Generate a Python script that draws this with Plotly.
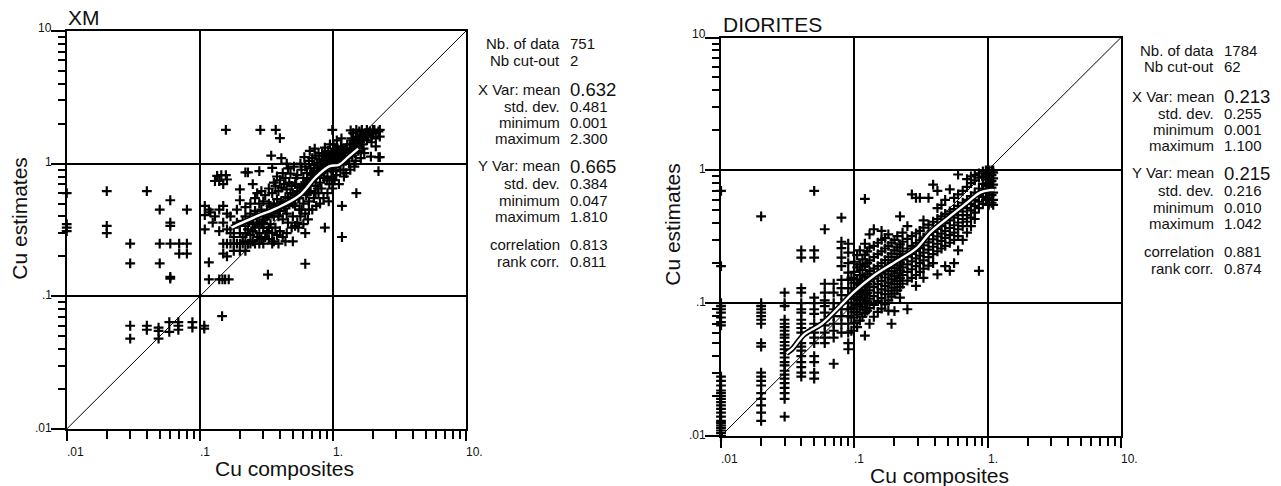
import plotly.graph_objects as go

W, H = 1281, 486

# ------------------------------------------------------------------ data
DECADES = [0.01, 0.1, 1, 10]
MINORS = [0.02, 0.03, 0.04, 0.05, 0.06, 0.07, 0.08, 0.09,
          0.2, 0.3, 0.4, 0.5, 0.6, 0.7, 0.8, 0.9,
          2, 3, 4, 5, 6, 7, 8, 9]
X_TICK_LABELS = [".01", ".1", "1.", "10."]
Y_TICK_LABELS = [".01", ".1", "1", "10"]

STAT_LABELS = ["Nb. of data", "Nb cut-out", "X Var: mean", "std. dev.", "minimum",
               "maximum", "Y Var: mean", "std. dev.", "minimum", "maximum",
               "correlation", "rank corr."]
XM_STATS = ["751", "2", "0.632", "0.481", "0.001", "2.300",
            "0.665", "0.384", "0.047", "1.810", "0.813", "0.811"]
DIO_STATS = ["1784", "62", "0.213", "0.255", "0.001", "1.100",
             "0.215", "0.216", "0.010", "1.042", "0.881", "0.874"]

# XM : points sitting on the left border (x clipped)
XM_EDGE = [(0.01, 0.60), (0.01, 0.35), (0.01, 0.33), (0.01, 0.31)]
# XM : sparse points at low composite grades
XM_LOW = [(0.02, 0.62), (0.02, 0.34), (0.02, 0.30), (0.03, 0.25), (0.03, 0.177),
          (0.04, 0.62), (0.05, 0.45), (0.05, 0.25), (0.05, 0.177), (0.06, 0.53),
          (0.06, 0.36), (0.06, 0.34), (0.06, 0.25), (0.06, 0.14), (0.06, 0.136),
          (0.07, 0.25), (0.07, 0.21), (0.08, 0.25), (0.08, 0.21), (0.08, 0.45),
          (0.03, 0.06), (0.03, 0.048), (0.04, 0.06), (0.04, 0.056), (0.049, 0.058),
          (0.049, 0.055), (0.049, 0.048), (0.059, 0.064), (0.059, 0.054), (0.069, 0.064),
          (0.069, 0.06), (0.069, 0.056), (0.088, 0.064), (0.088, 0.058), (0.108, 0.06),
          (0.108, 0.057), (0.147, 0.071),
          (0.109, 0.48), (0.109, 0.41), (0.109, 0.32), (0.117, 0.45), (0.117, 0.18),
          (0.117, 0.134), (0.13, 0.74), (0.135, 0.81), (0.14, 0.74), (0.125, 0.36),
          (0.14, 0.31), (0.14, 0.134), (0.148, 0.134), (0.155, 0.134), (0.15, 0.21),
          (0.165, 0.134), (0.12, 0.43), (0.13, 0.40), (0.145, 0.82), (0.157, 0.82),
          (0.15, 0.7), (0.16, 0.76), (0.157, 1.80), (0.285, 1.80), (0.372, 1.80),
          (0.40, 1.56), (0.344, 1.15), (0.99, 1.80), (0.325, 0.146), (0.62, 0.176),
          (1.17, 0.28), (1.17, 0.48), (0.87, 0.33), (1.5, 0.60), (0.2, 0.53),
          (0.2, 0.64)]
# XM : main cloud
XM_CLOUD = [
    (0.16, 0.25), (0.17, 0.25), (0.18, 0.25), (0.19, 0.25), (0.16, 0.20), (0.17, 0.30),
    (0.18, 0.28), (0.15, 0.36), (0.16, 0.42), (0.17, 0.40), (0.19, 0.45), (0.18, 0.33),
    (0.19, 0.36), (0.15, 0.25), (0.18, 0.22), (0.16, 0.32), (0.14, 0.45), (0.15, 0.48),
    (0.20, 0.25), (0.21, 0.25), (0.22, 0.26), (0.23, 0.25), (0.24, 0.25), (0.25, 0.26),
    (0.26, 0.25), (0.21, 0.28), (0.22, 0.30), (0.23, 0.32), (0.24, 0.29), (0.25, 0.31),
    (0.26, 0.33), (0.27, 0.28), (0.28, 0.30), (0.29, 0.27), (0.20, 0.34), (0.21, 0.37),
    (0.22, 0.40), (0.23, 0.36), (0.24, 0.42), (0.25, 0.38), (0.26, 0.44), (0.27, 0.40),
    (0.28, 0.36), (0.29, 0.45), (0.20, 0.22), (0.22, 0.22), (0.22, 0.47), (0.24, 0.50),
    (0.26, 0.55), (0.28, 0.50), (0.27, 0.60), (0.29, 0.62), (0.22, 0.86), (0.23, 0.86),
    (0.28, 0.88), (0.25, 0.70), (0.30, 0.25), (0.30, 0.33), (0.30, 0.40), (0.30, 0.52),
    (0.31, 0.28), (0.32, 0.31), (0.33, 0.27), (0.34, 0.35), (0.35, 0.30), (0.36, 0.26),
    (0.37, 0.33), (0.38, 0.29), (0.39, 0.25), (0.40, 0.31), (0.42, 0.28), (0.44, 0.26),
    (0.31, 0.38), (0.32, 0.44), (0.33, 0.41), (0.34, 0.48), (0.35, 0.42), (0.36, 0.50),
    (0.37, 0.46), (0.38, 0.54), (0.39, 0.40), (0.40, 0.44), (0.41, 0.52), (0.42, 0.38),
    (0.43, 0.48), (0.44, 0.56), (0.45, 0.42), (0.46, 0.36), (0.47, 0.50), (0.48, 0.60),
    (0.49, 0.33), (0.31, 0.58), (0.33, 0.65), (0.35, 0.60), (0.36, 0.72), (0.37, 0.68),
    (0.38, 0.80), (0.39, 0.62), (0.40, 0.75), (0.41, 0.66), (0.42, 0.85), (0.43, 0.70),
    (0.44, 0.78), (0.45, 0.64), (0.46, 0.92), (0.47, 0.72), (0.48, 0.84), (0.49, 0.68),
    (0.35, 0.93), (0.45, 1.00), (0.50, 0.26), (0.41, 1.10), (0.33, 0.50), (0.29, 0.35),
    (0.50, 0.40), (0.52, 0.48), (0.54, 0.36), (0.55, 0.55), (0.56, 0.45), (0.58, 0.62),
    (0.60, 0.50), (0.62, 0.42), (0.63, 0.58), (0.65, 0.70), (0.66, 0.52), (0.68, 0.62),
    (0.70, 0.75), (0.72, 0.55), (0.74, 0.68), (0.76, 0.82), (0.78, 0.60), (0.80, 0.72),
    (0.50, 0.60), (0.52, 0.70), (0.54, 0.82), (0.56, 0.66), (0.58, 0.90), (0.60, 0.78),
    (0.62, 0.95), (0.64, 0.85), (0.66, 1.05), (0.68, 0.92), (0.70, 1.10), (0.72, 0.98),
    (0.74, 1.15), (0.76, 1.02), (0.78, 1.20), (0.80, 0.95), (0.51, 0.95), (0.53, 0.78),
    (0.57, 1.00), (0.61, 1.12), (0.67, 1.25), (0.73, 1.30), (0.79, 1.08), (0.55, 0.33),
    (0.62, 0.30), (0.60, 0.35), (0.65, 0.38), (0.70, 0.45), (0.75, 0.48), (0.80, 0.50),
    (0.64, 0.60), (0.57, 0.40), (0.69, 0.85), (0.77, 0.65),
    (0.82, 0.85), (0.84, 1.00), (0.86, 0.78), (0.88, 1.10), (0.90, 0.92), (0.92, 1.25),
    (0.94, 0.70), (0.96, 1.05), (0.98, 0.88), (1.00, 1.15), (1.02, 0.95), (1.04, 1.30),
    (1.06, 0.82), (1.08, 1.08), (1.10, 1.20), (1.12, 0.98), (1.15, 1.35), (1.18, 1.10),
    (1.20, 0.90), (1.22, 1.25), (1.25, 1.05), (1.28, 1.40), (0.83, 1.20), (0.87, 1.32),
    (0.91, 0.60), (0.95, 1.40), (0.99, 0.65), (1.03, 0.75), (1.07, 1.50), (1.11, 0.70),
    (1.16, 1.55), (1.21, 0.80), (1.26, 0.85), (1.30, 1.20), (0.85, 0.55), (0.93, 0.52),
    (0.89, 1.00), (0.97, 0.98), (1.05, 1.00), (1.13, 1.12), (0.99, 1.05), (0.91, 0.80),
    (1.09, 1.25), (1.01, 1.40), (0.86, 1.15),
    (1.32, 1.00), (1.35, 1.30), (1.38, 1.55), (1.40, 1.15), (1.42, 1.70), (1.45, 1.40),
    (1.48, 1.05), (1.50, 1.60), (1.55, 1.25), (1.58, 1.75), (1.60, 1.45), (1.62, 1.10),
    (1.65, 1.80), (1.68, 1.55), (1.70, 1.30), (1.75, 1.70), (1.80, 1.80), (1.85, 1.60),
    (1.90, 1.75), (1.95, 1.45), (2.00, 1.70), (2.05, 1.80), (2.10, 1.55), (2.20, 1.75),
    (2.25, 1.80), (2.25, 1.60), (2.20, 1.12), (2.25, 1.12), (2.20, 0.88), (1.93, 1.13),
    (2.10, 1.35), (1.35, 0.90), (1.45, 0.95), (1.50, 1.80), (1.36, 1.78), (1.72, 1.20),
]
# XM : extra points packed around the regression curve
XM_CORE = [
    (0.20, 0.30), (0.22, 0.34), (0.25, 0.35), (0.27, 0.36), (0.30, 0.36), (0.32, 0.40),
    (0.34, 0.42), (0.36, 0.40), (0.38, 0.45), (0.40, 0.48), (0.42, 0.50), (0.44, 0.46),
    (0.46, 0.55), (0.48, 0.52), (0.50, 0.50), (0.52, 0.58), (0.54, 0.62), (0.56, 0.55),
    (0.58, 0.68), (0.60, 0.62), (0.62, 0.70), (0.64, 0.75), (0.66, 0.68), (0.68, 0.78),
    (0.70, 0.82), (0.72, 0.88), (0.74, 0.78), (0.76, 0.92), (0.78, 0.85), (0.80, 1.00),
    (0.82, 0.92), (0.84, 0.88), (0.86, 1.05), (0.88, 0.95), (0.90, 1.08), (0.92, 1.00),
    (0.94, 1.12), (0.96, 0.92), (0.98, 1.20), (1.00, 1.00), (1.02, 1.10), (1.04, 1.18),
    (1.06, 0.95), (1.08, 1.30), (1.10, 1.05), (1.12, 1.22), (1.14, 0.90), (1.16, 1.15),
    (1.18, 1.30), (1.20, 1.05), (1.23, 1.15), (1.26, 1.30), (1.30, 1.10), (1.34, 1.40),
    (1.38, 1.25), (1.42, 1.50), (1.46, 1.20), (1.50, 1.35), (1.55, 1.50), (1.60, 1.65),
    (1.65, 1.40), (1.70, 1.60), (1.80, 1.50), (1.85, 1.70), (1.95, 1.60), (2.00, 1.80),
    (0.35, 0.25), (0.28, 0.25), (0.33, 0.33), (0.45, 0.30), (0.52, 0.34), (0.58, 0.45),
    (0.66, 0.45), (0.74, 0.60), (0.82, 0.65), (0.90, 0.75), (0.98, 0.78), (1.06, 0.88),
]
XM_CURVE_X = [0.173, 0.266, 0.375, 0.56, 0.75, 0.94, 1.11, 1.30, 1.55]
XM_CURVE_Y = [0.33, 0.40, 0.46, 0.575, 0.80, 0.955, 0.98, 1.12, 1.30]

# DIORITES : points on the left border (x clipped to 0.01)
DIO_EDGE_Y = [0.010, 0.0105, 0.011, 0.0115, 0.012, 0.0125, 0.013, 0.014, 0.015, 0.016,
              0.017, 0.018, 0.019, 0.020, 0.021, 0.022, 0.024, 0.026, 0.028, 0.068,
              0.072, 0.078, 0.085, 0.09, 0.095, 0.10, 0.19, 0.70]
# DIORITES : vertical strips at discrete composite grades
DIO_STRIPS = [
    (0.02, [0.45, 0.10, 0.095, 0.09, 0.085, 0.08, 0.075, 0.07, 0.05, 0.047, 0.03, 0.028,
            0.026, 0.024, 0.021, 0.019, 0.017, 0.015, 0.013]),
    (0.03, [0.12, 0.10, 0.095, 0.075, 0.07, 0.066, 0.062, 0.058, 0.055, 0.051, 0.048,
            0.045, 0.042, 0.039, 0.036, 0.034, 0.031, 0.029, 0.027, 0.025, 0.023, 0.021,
            0.019, 0.014]),
    (0.04, [0.25, 0.22, 0.13, 0.12, 0.10, 0.09, 0.085, 0.075, 0.07, 0.065, 0.06, 0.05,
            0.047, 0.044, 0.04, 0.036, 0.033, 0.03, 0.028]),
    (0.05, [0.70, 0.25, 0.22, 0.11, 0.10, 0.09, 0.083, 0.07, 0.065, 0.06, 0.055, 0.05,
            0.04, 0.036, 0.03, 0.027]),
    (0.06, [0.36, 0.14, 0.12, 0.105, 0.095, 0.085, 0.075, 0.068, 0.06, 0.055, 0.05]),
    (0.07, [0.14, 0.12, 0.10, 0.09, 0.08, 0.07, 0.062, 0.055, 0.035]),
    (0.08, [0.44, 0.29, 0.26, 0.22, 0.19, 0.15, 0.13, 0.115, 0.10, 0.09, 0.08, 0.07, 0.06]),
    (0.09, [0.28, 0.24, 0.20, 0.17, 0.15, 0.13, 0.115, 0.10, 0.09, 0.08, 0.07, 0.06,
            0.05, 0.045]),
]
# DIORITES : main cloud, grouped by composite grade
DIO_CLOUD = [
    (0.095, [0.062, 0.078, 0.093, 0.108, 0.13, 0.155]),
    (0.100, [0.071, 0.086, 0.101, 0.117, 0.142, 0.172, 0.205]),
    (0.105, [0.066, 0.082, 0.097, 0.112, 0.128, 0.151, 0.186, 0.23]),
    (0.110, [0.074, 0.090, 0.106, 0.121, 0.138, 0.163, 0.196, 0.25]),
    (0.115, [0.079, 0.094, 0.110, 0.126, 0.147, 0.178, 0.214]),
    (0.120, [0.057, 0.084, 0.099, 0.116, 0.133, 0.157, 0.19, 0.232, 0.28, 0.61]),
    (0.125, [0.088, 0.103, 0.119, 0.139, 0.166, 0.20, 0.245]),
    (0.130, [0.070, 0.092, 0.108, 0.125, 0.146, 0.174, 0.21, 0.262, 0.33]),
    (0.140, [0.079, 0.097, 0.113, 0.132, 0.153, 0.182, 0.222, 0.27, 0.36]),
    (0.150, [0.086, 0.104, 0.120, 0.139, 0.161, 0.19, 0.234, 0.285]),
    (0.160, [0.091, 0.109, 0.127, 0.147, 0.170, 0.20, 0.245, 0.30, 0.35]),
    (0.170, [0.098, 0.117, 0.135, 0.156, 0.180, 0.211, 0.258, 0.31]),
    (0.180, [0.088, 0.105, 0.124, 0.143, 0.165, 0.19, 0.223, 0.27, 0.33]),
    (0.190, [0.070, 0.112, 0.131, 0.151, 0.174, 0.20, 0.236, 0.285]),
    (0.200, [0.087, 0.118, 0.139, 0.160, 0.184, 0.21, 0.25, 0.30]),
    (0.210, [0.125, 0.147, 0.168, 0.193, 0.222, 0.263, 0.32]),
    (0.220, [0.110, 0.132, 0.155, 0.177, 0.203, 0.234, 0.277, 0.45]),
    (0.230, [0.140, 0.163, 0.186, 0.213, 0.246, 0.29, 0.34]),
    (0.250, [0.090, 0.148, 0.172, 0.196, 0.224, 0.258, 0.305, 0.38]),
    (0.270, [0.155, 0.180, 0.206, 0.235, 0.27, 0.32, 0.66]),
    (0.290, [0.135, 0.163, 0.190, 0.217, 0.247, 0.283, 0.335, 0.62]),
    (0.310, [0.172, 0.200, 0.228, 0.26, 0.297, 0.35, 0.62]),
    (0.330, [0.155, 0.182, 0.210, 0.24, 0.272, 0.31, 0.37, 0.42]),
    (0.360, [0.192, 0.222, 0.253, 0.287, 0.327, 0.39, 0.62]),
    (0.390, [0.200, 0.234, 0.266, 0.302, 0.344, 0.41, 0.78]),
    (0.420, [0.165, 0.246, 0.280, 0.318, 0.362, 0.43, 0.52, 0.70]),
    (0.450, [0.258, 0.294, 0.334, 0.38, 0.45, 0.55]),
    (0.480, [0.190, 0.270, 0.310, 0.35, 0.40, 0.47, 0.60]),
    (0.520, [0.175, 0.285, 0.325, 0.368, 0.42, 0.49, 0.72]),
    (0.560, [0.200, 0.300, 0.340, 0.386, 0.44, 0.51, 0.62]),
    (0.600, [0.250, 0.320, 0.360, 0.405, 0.46, 0.54, 0.66, 0.93]),
    (0.650, [0.300, 0.380, 0.430, 0.49, 0.57, 0.70]),
    (0.700, [0.340, 0.410, 0.460, 0.52, 0.60, 0.75, 0.86]),
    (0.750, [0.380, 0.440, 0.500, 0.56, 0.64, 0.80, 0.90]),
    (0.800, [0.430, 0.480, 0.540, 0.60, 0.68, 0.84, 0.92]),
    (0.860, [0.175, 0.520, 0.580, 0.65, 0.73, 0.88, 0.95]),
    (0.920, [0.560, 0.630, 0.700, 0.79, 0.90, 0.98]),
    (0.970, [0.600, 0.680, 0.760, 0.85, 0.93, 1.00]),
    (1.020, [0.550, 0.620, 0.700, 0.80, 0.88, 0.95, 1.00]),
    (1.070, [0.570, 0.650, 0.740, 0.83, 0.92, 1.00]),
    (1.100, [0.550, 0.600, 0.680, 0.78, 0.87, 0.96, 1.00]),
]
DIO_CURVE_X = [0.031, 0.034, 0.042, 0.057, 0.078, 0.098, 0.139, 0.196, 0.293, 0.37,
               0.52, 0.70, 0.876, 1.04, 1.12]
DIO_CURVE_Y = [0.042, 0.045, 0.058, 0.070, 0.095, 0.12, 0.16, 0.20, 0.26, 0.34,
               0.45, 0.57, 0.68, 0.71, 0.71]

# ------------------------------------------------------------------ layout geometry (pixels)
PLOTS = {
    "XM": dict(x0=66.7, x1=466.0, y0=31.0, y1=429.0),
    "DIO": dict(x0=721.0, x1=1121.0, y0=37.5, y1=436.0),
}


def px(x):
    return x / W


def py(y):
    return 1 - y / H


FONT = "Liberation Sans, Arial, Helvetica, sans-serif"
INK = "#111111"

fig = go.Figure()


def add_panel(xa, ya, edge_pts, scatter_pts, cx, cy):
    suf_x = xa.replace("xaxis", "x")
    suf_y = ya.replace("yaxis", "y")
    fig.add_trace(go.Scatter(x=[0.01, 10], y=[0.01, 10], mode="lines",
                             line=dict(color="black", width=1),
                             xaxis=suf_x, yaxis=suf_y, hoverinfo="skip"))
    mk = dict(symbol="cross-thin", size=7, color="black",
              line=dict(color="black", width=2.2))
    fig.add_trace(go.Scatter(x=[p[0] for p in scatter_pts], y=[p[1] for p in scatter_pts],
                             mode="markers", marker=mk, xaxis=suf_x, yaxis=suf_y))
    fig.add_trace(go.Scatter(x=[p[0] for p in edge_pts], y=[p[1] for p in edge_pts],
                             mode="markers", marker=mk, cliponaxis=False,
                             xaxis=suf_x, yaxis=suf_y))
    fig.add_trace(go.Scatter(x=cx, y=cy, mode="lines",
                             line=dict(color="black", width=5.5, shape="spline"),
                             xaxis=suf_x, yaxis=suf_y))
    fig.add_trace(go.Scatter(x=cx, y=cy, mode="lines",
                             line=dict(color="white", width=2.4, shape="spline"),
                             xaxis=suf_x, yaxis=suf_y))


xm_pts = XM_LOW + XM_CLOUD + XM_CORE
add_panel("xaxis", "yaxis", XM_EDGE, xm_pts, XM_CURVE_X, XM_CURVE_Y)

dio_pts = []
for xv, ys in DIO_STRIPS + DIO_CLOUD:
    dio_pts += [(xv, yv) for yv in ys]
dio_edge = [(0.01, yv) for yv in DIO_EDGE_Y]
add_panel("xaxis2", "yaxis2", dio_edge, dio_pts, DIO_CURVE_X, DIO_CURVE_Y)


def axis(domain, anchor, ticklen, minorlen):
    return dict(type="log", range=[-2, 1], domain=domain, anchor=anchor,
                showline=True, linecolor="black", linewidth=2, mirror=True,
                showgrid=True, gridcolor="black", gridwidth=1.5,
                tickmode="array", tickvals=DECADES, ticks="outside",
                ticklen=ticklen, tickwidth=1.5, tickcolor="black",
                showticklabels=False, zeroline=False, fixedrange=True,
                minor=dict(tickmode="array", tickvals=MINORS, ticks="outside",
                           ticklen=minorlen, tickwidth=1.5, tickcolor="black",
                           showgrid=False))


g = PLOTS["XM"]
h = PLOTS["DIO"]
fig.update_layout(
    width=W, height=H, margin=dict(l=0, r=0, t=0, b=0),
    paper_bgcolor="white", plot_bgcolor="white", showlegend=False,
    xaxis=axis([px(g["x0"]), px(g["x1"])], "y", 10, 8),
    yaxis=axis([py(g["y1"]), py(g["y0"])], "x", 14, 7),
    xaxis2=axis([px(h["x0"]), px(h["x1"])], "y2", 10, 8),
    yaxis2=axis([py(h["y1"]), py(h["y0"])], "x2", 14, 7),
)

ann = []


def text(x, y, s, size, xanchor="left", yanchor="middle", angle=0):
    ann.append(dict(x=px(x), y=py(y), xref="paper", yref="paper", text=s,
                    showarrow=False, xanchor=xanchor, yanchor=yanchor,
                    textangle=angle, borderpad=0,
                    font=dict(family=FONT, size=size, color=INK)))


STAT_ROWS = [43.3, 60.0, 89.0, 106.7, 122.0, 138.3, 165.7, 183.3, 200.0, 216.7, 244.3, 261.7]

for key, title, stats, dy in (("XM", "XM", XM_STATS, 0.0), ("DIO", "DIORITES", DIO_STATS, 7.0)):
    p = PLOTS[key]
    ox = p["x0"] - 66.7
    text(p["x0"] + 0.5, p["y0"] - 13.5, title, 21)
    text(p["x0"] + 218, p["y1"] + 39, "Cu composites", 21, xanchor="center")
    text(p["x0"] - 48, (p["y0"] + p["y1"]) / 2 - 12, "Cu estimates", 21,
         xanchor="center", angle=-90)
    dec = (p["x1"] - p["x0"]) / 3.0
    for i, lab in enumerate(X_TICK_LABELS):
        text(p["x0"] + i * dec - 1, p["y1"] + 23, lab, 12)
    decy = (p["y1"] - p["y0"]) / 3.0
    for i, lab in enumerate(Y_TICK_LABELS):
        yy = p["y1"] - i * decy - (3 if i == 3 else 1.5)
        text(p["x0"] - 13.5, yy, lab, 12, xanchor="right")
    for lab, val, row in zip(STAT_LABELS, stats, STAT_ROWS):
        big = lab.endswith("mean")
        text(560.7 + ox, row + dy, lab, 15, xanchor="right")
        text(569.0 + ox, row + dy + (0.5 if big else 0), val, 18.5 if big else 15)

fig.update_layout(annotations=ann)
fig.write_html("out.html")
